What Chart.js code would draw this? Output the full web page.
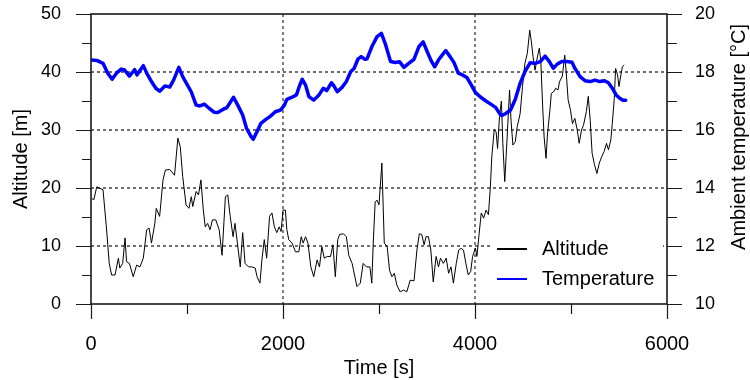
<!DOCTYPE html>
<html>
  <head>
    <meta charset="UTF-8" />
    <title>Altitude and ambient temperature</title>
    <script src="https://cdn.jsdelivr.net/npm/chart.js"></script>
    <style>
      body {
        margin: 0;
        background: #fff;
      }
      canvas {
        display: block;
      }
    </style>
  </head>
  <body>
    <canvas id="flightChart" width="750" height="380"></canvas>

    <script>
      // altitude [m] against time [s]
      const altTime = [
        7, 30, 60, 125, 160, 190, 215, 250, 285, 300,
        330, 355, 370, 400, 440, 475, 510, 545, 580, 605,
        630, 665, 680, 715, 750, 775, 820, 870, 905, 930,
        955, 990, 1020, 1045, 1060, 1095, 1120, 1145, 1170, 1190,
        1215, 1240, 1265, 1300, 1335, 1365, 1400, 1425, 1450, 1480,
        1500, 1525, 1555, 1580, 1605, 1640, 1675, 1710, 1730, 1760,
        1780, 1805, 1830, 1860, 1885, 1910, 1935, 1960, 1980, 2000,
        2025, 2040, 2060, 2095, 2130, 2165, 2190, 2210, 2235, 2260,
        2290, 2320, 2355, 2380, 2405, 2430, 2460, 2495, 2520, 2545,
        2570, 2590, 2630, 2660, 2685, 2720, 2745, 2770, 2805, 2835,
        2870, 2905, 2925, 2940, 2960, 2980, 3000, 3030, 3055, 3085,
        3110, 3135, 3160, 3185, 3220, 3255, 3290, 3325, 3365, 3395,
        3420, 3445, 3470, 3490, 3515, 3540, 3565, 3595, 3620, 3640,
        3670, 3700, 3725, 3750, 3775, 3805, 3830, 3855, 3880, 3905,
        3930, 3955, 3975, 4005, 4020, 4040, 4065, 4090, 4115, 4140,
        4160, 4175, 4200, 4220, 4235, 4255, 4275, 4290, 4310, 4335,
        4360, 4375, 4395, 4420, 4440, 4470, 4495, 4520, 4545, 4570,
        4585, 4605, 4625, 4650, 4670, 4685, 4705, 4720, 4740, 4755,
        4780, 4795, 4820, 4840, 4865, 4880, 4910, 4935, 4950, 4970,
        4995, 5015, 5040, 5065, 5085, 5110, 5130, 5160, 5180, 5200,
        5220, 5245, 5270, 5295, 5320, 5345, 5370, 5390, 5415, 5430,
        5450, 5465, 5485, 5500, 5520, 5535, 5555,
      ];
      const altValue = [
        18.2, 18.0, 20.2, 19.7, 13.3, 7.0, 5.0, 5.0, 7.9, 6.2,
        7.0, 11.4, 7.3, 7.0, 4.7, 6.7, 6.4, 7.9, 12.8, 13.1,
        10.5, 13.9, 16.5, 15.1, 21.4, 23.1, 23.2, 22.2, 28.6, 27.1,
        22.0, 17.1, 16.5, 18.5, 16.8, 19.4, 18.8, 21.4, 16.2, 13.3,
        13.9, 12.8, 14.5, 14.5, 12.8, 8.4, 18.5, 18.8, 15.1, 11.6,
        13.9, 10.5, 6.4, 12.3, 7.0, 6.4, 6.4, 6.2, 4.7, 3.6,
        7.6, 11.1, 7.9, 15.1, 15.7, 13.3, 12.3, 13.3, 12.5, 16.2,
        16.2, 12.8, 11.1, 10.5, 9.0, 9.0, 11.6, 10.5, 11.6, 10.5,
        6.4, 4.7, 7.6, 6.4, 9.9, 7.9, 8.2, 8.2, 10.2, 4.7,
        11.1, 12.0, 12.1, 11.6, 8.4, 7.0, 5.0, 3.0, 3.6, 7.0,
        6.4, 6.4, 3.6, 10.5, 17.6, 17.9, 17.1, 24.3, 10.5, 9.9,
        5.8, 4.7, 5.3, 3.3, 2.1, 2.4, 2.1, 4.1, 4.0, 9.3,
        12.1, 12.0, 10.2, 11.6, 11.6, 9.3, 3.8, 8.2, 6.4, 7.9,
        7.0, 7.9, 5.3, 6.4, 3.6, 7.0, 9.3, 9.6, 9.3, 7.0,
        5.0, 5.6, 8.2, 9.6, 8.2, 11.6, 15.7, 14.8, 16.2, 15.4,
        20.2, 25.4, 30.0, 29.7, 26.8, 32.3, 35.0, 27.7, 21.1, 28.8,
        36.9, 31.7, 27.4, 28.0, 30.6, 32.8, 37.5, 41.5, 43.2, 47.2,
        45.5, 42.6, 40.3, 42.6, 44.1, 42.0, 34.0, 28.8, 25.1, 29.3,
        33.4, 36.3, 36.6, 37.2, 36.9, 38.3, 39.3, 42.9, 40.0, 35.2,
        33.4, 31.1, 32.0, 30.0, 27.7, 30.0, 30.8, 33.2, 35.8, 31.7,
        26.0, 24.0, 22.5, 24.3, 25.4, 26.3, 27.7, 26.6, 28.3, 31.1,
        35.2, 40.6, 39.5, 37.5, 39.5, 40.9, 41.2,
      ];

      // ambient temperature [°C] against time [s]
      const tempTime = [
        7, 60, 125, 175, 220, 265, 315, 350, 400, 435,
        455, 480, 510, 545, 580, 630, 675, 715, 770, 820,
        860, 915, 955, 1005, 1045, 1095, 1135, 1180, 1230, 1285,
        1320, 1370, 1415, 1485, 1530, 1580, 1620, 1665, 1690, 1730,
        1770, 1815, 1870, 1920, 1975, 2015, 2040, 2095, 2140, 2175,
        2200, 2235, 2270, 2320, 2375, 2420, 2455, 2505, 2530, 2565,
        2615, 2660, 2705, 2740, 2780, 2815, 2850, 2875, 2925, 2980,
        3025, 3065, 3120, 3170, 3215, 3260, 3310, 3365, 3415, 3460,
        3495, 3540, 3580, 3625, 3660, 3695, 3740, 3785, 3825, 3870,
        3915, 3955, 4005, 4060, 4110, 4160, 4215, 4260, 4280, 4320,
        4370, 4420, 4470, 4520, 4575, 4625, 4680, 4730, 4775, 4815,
        4860, 4905, 4955, 5010, 5040, 5095, 5145, 5200, 5250, 5300,
        5345, 5390, 5430, 5470, 5505, 5540, 5570,
      ];
      const tempValue = [
        18.41, 18.4, 18.3, 17.96, 17.75, 17.96, 18.1, 18.07, 17.86, 18.0,
        18.08, 17.9, 18.05, 18.22, 17.96, 17.67, 17.44, 17.34, 17.52, 17.48,
        17.72, 18.16, 17.84, 17.55, 17.31, 16.86, 16.83, 16.89, 16.75, 16.61,
        16.6, 16.7, 16.77, 17.13, 16.85, 16.52, 16.06, 15.79, 15.68, 15.95,
        16.23, 16.35, 16.48, 16.63, 16.69, 16.86, 17.06, 17.13, 17.21, 17.55,
        17.75, 17.55, 17.15, 17.03, 17.21, 17.44, 17.36, 17.63, 17.52, 17.32,
        17.47, 17.67, 18.01, 18.12, 18.44, 18.53, 18.44, 18.45, 18.87, 19.22,
        19.33, 18.98, 18.36, 18.33, 18.35, 18.16, 18.3, 18.44, 18.87, 19.04,
        18.76, 18.41, 18.18, 18.44, 18.59, 18.74, 18.53, 18.3, 17.96, 17.9,
        17.81, 17.59, 17.29, 17.13, 17.01, 16.9, 16.78, 16.55, 16.5, 16.57,
        16.69, 17.06, 17.61, 18.01, 18.32, 18.3, 18.36, 18.55, 18.36, 18.13,
        18.28, 18.36, 18.36, 18.34, 18.13, 17.84, 17.7, 17.67, 17.72, 17.67,
        17.7, 17.63, 17.44, 17.21, 17.1, 17.03, 17.03,
      ];

      // labelled ticks (minor ticks fall halfway between)
      const timeLabels = [0, 2000, 4000, 6000];
      const altLabels = [0, 10, 20, 30, 40, 50];
      const tempLabels = [10, 12, 14, 16, 18, 20];

      const FONT = "'Liberation Sans', Arial, sans-serif";

      const toPoints = (xs, ys) => xs.map((x, i) => ({ x: x, y: ys[i] }));

      // fixed axis band sizes so the plot box lands where the original has it
      const fixWidth = (w) => (s) => {
        s.width = w;
        s.paddingTop = 0;
        s.paddingBottom = 0;
      };

      // dotted grid under the data, frame + tick marks + legend + titles on top
      const framePlugin = {
        id: "frame",
        beforeDatasetsDraw(chart) {
          const { ctx, chartArea: a, scales } = chart;
          ctx.save();
          ctx.strokeStyle = "#6f6f6f";
          ctx.lineWidth = 1.8;
          ctx.setLineDash([3, 3]);
          ctx.beginPath();
          timeLabels.slice(1, -1).forEach((v) => {
            const x = Math.round(scales.x.getPixelForValue(v));
            ctx.moveTo(x, a.top);
            ctx.lineTo(x, a.bottom);
          });
          altLabels.slice(1, -1).forEach((v) => {
            const y = Math.round(scales.y.getPixelForValue(v));
            ctx.moveTo(a.left, y);
            ctx.lineTo(a.right, y);
          });
          ctx.stroke();
          ctx.restore();
        },
        afterDatasetsDraw(chart) {
          const { ctx, chartArea: a, scales } = chart;
          ctx.save();
          ctx.strokeStyle = "#1a1a1a";
          ctx.lineWidth = 1.2;
          ctx.beginPath();
          scales.x.ticks.forEach((t) => {
            const x = Math.round(scales.x.getPixelForValue(t.value)) + 0.5;
            const len = timeLabels.includes(t.value) ? 15 : 10;
            ctx.moveTo(x, a.bottom);
            ctx.lineTo(x, a.bottom + len);
          });
          scales.y.ticks.forEach((t) => {
            const y = Math.round(scales.y.getPixelForValue(t.value)) + 0.5;
            const len = altLabels.includes(t.value) ? 15 : 9;
            ctx.moveTo(a.left, y);
            ctx.lineTo(a.left - len, y);
          });
          scales.y1.ticks.forEach((t) => {
            const y = Math.round(scales.y1.getPixelForValue(t.value)) + 0.5;
            const len = tempLabels.includes(t.value) ? 15 : 10;
            ctx.moveTo(a.right, y);
            ctx.lineTo(a.right + len, y);
          });
          ctx.stroke();

          ctx.lineWidth = 1.6;
          ctx.strokeRect(a.left, a.top, a.right - a.left, a.bottom - a.top);

          // legend, bottom right inside the plot
          ctx.fillStyle = "#fff";
          ctx.fillRect(a.right - 174, a.bottom - 72, 170, 62);
          const rows = [
            { label: "Altitude", color: "#000", y: a.bottom - 55 },
            { label: "Temperature", color: "#0000ff", y: a.bottom - 25 },
          ];
          ctx.font = "20px " + FONT;
          ctx.textBaseline = "middle";
          ctx.textAlign = "left";
          rows.forEach((r) => {
            ctx.strokeStyle = r.color;
            ctx.lineWidth = 2;
            ctx.beginPath();
            ctx.moveTo(a.right - 170, r.y);
            ctx.lineTo(a.right - 140, r.y);
            ctx.stroke();
            ctx.fillStyle = "#000";
            ctx.fillText(r.label, a.right - 125, r.y);
          });
          ctx.restore();
        },
        afterDraw(chart) {
          const { ctx, chartArea: a, width } = chart;
          ctx.save();
          ctx.fillStyle = "#000";
          ctx.font = "20px " + FONT;
          ctx.textAlign = "center";
          ctx.textBaseline = "middle";
          ctx.fillText("Time [s]", (a.left + a.right) / 2, a.bottom + 64);

          ctx.translate(21, (a.top + a.bottom) / 2);
          ctx.rotate(-Math.PI / 2);
          ctx.fillText("Altitude [m]", 0, 0);
          ctx.restore();

          ctx.save();
          ctx.fillStyle = "#000";
          ctx.font = "20px " + FONT;
          ctx.textAlign = "center";
          ctx.textBaseline = "middle";
          ctx.translate(width - 11, a.top + 123);
          ctx.rotate(-Math.PI / 2);
          ctx.fillText("Ambient temperature [°C]", 0, 0);
          ctx.restore();
        },
      };

      new Chart(document.getElementById("flightChart"), {
        type: "line",
        data: {
          datasets: [
            {
              label: "Temperature",
              data: toPoints(tempTime, tempValue),
              yAxisID: "y1",
              borderColor: "#0000ff",
              borderWidth: 3.5,
              borderCapStyle: "round",
              borderJoinStyle: "round",
              pointRadius: 0,
              tension: 0,
              order: 1,
            },
            {
              label: "Altitude",
              data: toPoints(altTime, altValue),
              yAxisID: "y",
              borderColor: "#000",
              borderWidth: 1,
              pointRadius: 0,
              tension: 0,
              order: 2,
            },
          ],
        },
        options: {
          responsive: false,
          animation: false,
          devicePixelRatio: 1,
          layout: { padding: { top: 14, left: 0, right: 0, bottom: 0 } },
          plugins: {
            legend: { display: false },
            tooltip: { enabled: false },
          },
          scales: {
            x: {
              type: "linear",
              min: 0,
              max: 6000,
              afterFit: (s) => {
                s.height = 76;
                s.paddingLeft = 0;
                s.paddingRight = 0;
              },
              ticks: {
                stepSize: 1000,
                autoSkip: false,
                maxRotation: 0,
                padding: 13,
                color: "#000",
                font: { family: FONT, size: 20 },
                callback: (v) => (timeLabels.includes(v) ? String(v) : ""),
              },
              grid: {
                drawOnChartArea: false,
                tickLength: 15,
                tickColor: "rgba(0,0,0,0)",
              },
              border: { display: false },
            },
            y: {
              position: "left",
              min: 0,
              max: 50,
              afterFit: fixWidth(91),
              ticks: {
                stepSize: 5,
                autoSkip: false,
                padding: 15,
                color: "#000",
                font: { family: FONT, size: 18 },
                callback: (v) => (altLabels.includes(v) ? String(v) : ""),
              },
              grid: {
                drawOnChartArea: false,
                tickLength: 15,
                tickColor: "rgba(0,0,0,0)",
              },
              border: { display: false },
            },
            y1: {
              position: "right",
              min: 10,
              max: 20,
              afterFit: fixWidth(83),
              ticks: {
                stepSize: 1,
                autoSkip: false,
                padding: 13,
                color: "#000",
                font: { family: FONT, size: 18 },
                callback: (v) => (tempLabels.includes(v) ? String(v) : ""),
              },
              grid: {
                drawOnChartArea: false,
                tickLength: 15,
                tickColor: "rgba(0,0,0,0)",
              },
              border: { display: false },
            },
          },
        },
        plugins: [framePlugin],
      });
    </script>
  </body>
</html>
